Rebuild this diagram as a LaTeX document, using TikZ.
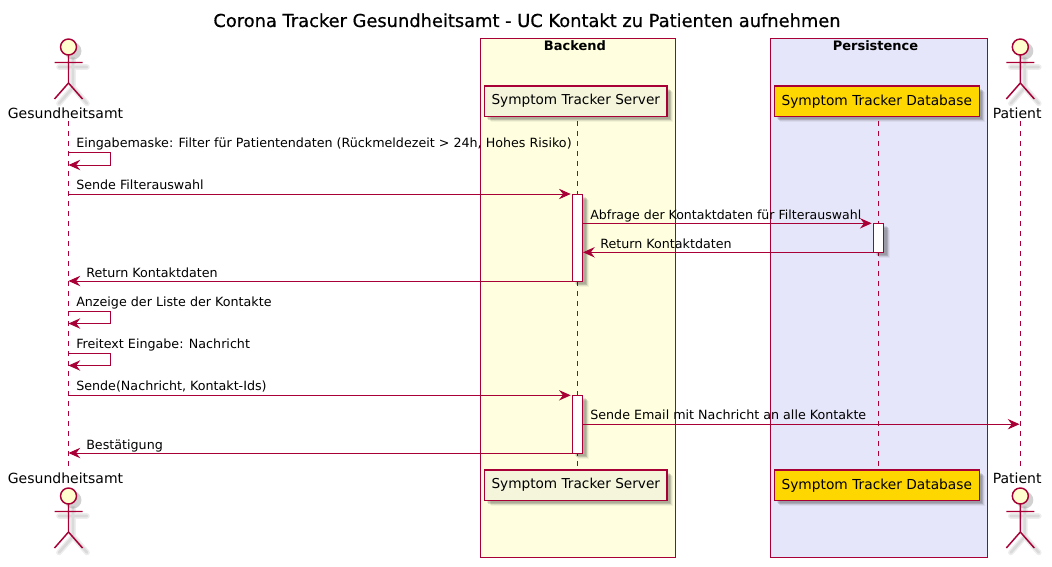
\documentclass[tikz,border=0pt]{standalone}
\usepackage{fontspec}
\setmainfont{DejaVu Sans}
\newfontfamily\titlefont[FakeBold=0.6]{DejaVu Sans}
\usetikzlibrary{arrows.meta,shadows}
\definecolor{puml}{HTML}{A80036}
\definecolor{headfill}{HTML}{FEFECE}
\definecolor{boxyellow}{HTML}{FFFFE0}
\definecolor{boxlav}{HTML}{E6E6FA}
\definecolor{srvfill}{HTML}{F5F5DC}
\definecolor{dbfill}{HTML}{FFD700}
\tikzset{
  softshadow/.style={
    general shadow={shadow xshift=2.2pt,shadow yshift=-2.2pt,fill=black,opacity=.09,draw=none},
    general shadow={shadow xshift=3pt,shadow yshift=-3pt,fill=black,opacity=.14,draw=none},
    general shadow={shadow xshift=3.8pt,shadow yshift=-3.8pt,fill=black,opacity=.08,draw=none},
    general shadow={shadow xshift=4.6pt,shadow yshift=-4.6pt,fill=black,opacity=.05,draw=none}},
  groupbox/.style={draw=puml,line width=0.75pt},
  grouplabel/.style={font=\bfseries\fontsize{9.75}{11}\selectfont,anchor=base,inner sep=0pt},
  partbox/.style={draw=puml,line width=1.1pt,minimum height=22.6pt,inner sep=0pt,softshadow},
  srvbox/.style={partbox,fill=srvfill,minimum width=137pt,font=\fontsize{10.25}{12}\selectfont},
  dbbox/.style={partbox,fill=dbfill,minimum width=153.7pt,font=\fontsize{10.33}{12}\selectfont},
  actorlabel/.style={font=\fontsize{10.5}{12}\selectfont,anchor=base,inner sep=0pt},
  msgtext/.style={font=\fontsize{9.52}{11}\selectfont,anchor=base west,inner sep=0pt},
  msgtextnarrow/.style={msgtext,font=\fontsize{9.42}{11}\selectfont},
  life/.style={draw=puml,line width=0.75pt,dash pattern=on 3.75pt off 3.75pt},
  msg/.style={draw=puml,line width=0.75pt,-{Stealth[length=8.8pt,width=7.8pt,inset=3pt,fill=puml]}},
  activation/.style={draw=puml,line width=0.75pt,fill=white,softshadow,inner sep=0pt,minimum width=7.8pt},
  actorfig/.pic={
    \begin{scope}[shift={(4.5,4.5)},draw=black,line cap=round]
      \fill[black,opacity=.18] (0,-8.5) circle (8.5);
      \draw[opacity=.07,line width=4.2pt] (0,0) -- (0,28) (-14,7.5) -- (14,7.5) (-14,44) -- (0,28) -- (14,44);
      \draw[opacity=.08,line width=2pt] (0,0) -- (0,28) (-14,7.5) -- (14,7.5) (-14,44) -- (0,28) -- (14,44);
    \end{scope}
    \filldraw[draw=puml,fill=headfill,line width=1.1pt] (0,-8) circle (8);
    \draw[puml,line width=1.1pt] (0,0) -- (0,28) (-14,7.5) -- (14,7.5) (-14,44) -- (0,28) -- (14,44);
  }
}
\begin{document}
\begin{tikzpicture}[x=0.75pt,y=-0.75pt]
\useasboundingbox[fill=white] (0,0) rectangle (1052,567);

\node[font=\titlefont\fontsize{13.38}{16}\selectfont,anchor=base,inner sep=0pt] (title) at (527,27) {Corona Tracker Gesundheitsamt - UC Kontakt zu Patienten aufnehmen};

\draw[groupbox,fill=boxyellow] (480.5,38.5) rectangle (675.3,557.3);
\draw[groupbox,fill=boxlav] (770.5,38.5) rectangle (987.3,557.3);
\node[grouplabel] (backend) at (575,50.5) {Backend};
\node[grouplabel] (persistence) at (875.5,50.5) {Persistence};

% participants
\node[srvbox] (srvT) at (575.8,101.2) {Symptom Tracker Server};
\node[srvbox] (srvB) at (575.8,485.2) {Symptom Tracker Server};
\node[dbbox] (dbT) at (876.8,101.2) {Symptom Tracker Database};
\node[dbbox] (dbB) at (876.8,485.2) {Symptom Tracker Database};

% actors
\pic at (68.5,55) {actorfig};
\pic at (1020.3,55) {actorfig};
\pic at (68.5,504) {actorfig};
\pic at (1020.3,504) {actorfig};
\node[actorlabel] (gesT) at (65.5,118) {Gesundheitsamt};
\node[actorlabel] (patT) at (1017.2,118) {Patient};
\node[actorlabel] (gesB) at (65.5,483) {Gesundheitsamt};
\node[actorlabel] (patB) at (1017.2,483) {Patient};

% lifelines
\coordinate (gTop) at (68.5,121);
\coordinate (gBot) at (68.5,466);
\coordinate (pTop) at (1020.3,121);
\coordinate (pBot) at (1020.3,466);
\coordinate (sTop) at (577.3,121);
\coordinate (sBot) at (577.3,466);
\coordinate (dTop) at (878.3,121);
\coordinate (dBot) at (878.3,466);
\draw[life] (gTop) -- (gBot);
\draw[life] (sTop) -- (sBot);
\draw[life] (dTop) -- (dBot);
\draw[life] (pTop) -- (pBot);

% activations
\node[activation,minimum height=65.2pt] (act1) at (577.5,237.6) {};
\node[activation,minimum height=21.5pt] (act2) at (878.5,237.7) {};
\node[activation,minimum height=43.3pt] (act3) at (577.5,424.2) {};

% message end points
\coordinate (g1a) at (68.5,152.3); \coordinate (g1b) at (68.5,165);
\coordinate (g2) at (68.5,194); \coordinate (s2) at (570.7,194);
\coordinate (s3) at (582.7,223.3); \coordinate (d3) at (871.7,223.3);
\coordinate (d4) at (873.3,252.3); \coordinate (s4) at (583,252.3);
\coordinate (s5) at (572.3,281); \coordinate (g5) at (68.5,281);
\coordinate (g6a) at (68.5,311); \coordinate (g6b) at (68.5,323.5);
\coordinate (g7a) at (68.5,353); \coordinate (g7b) at (68.5,365.5);
\coordinate (g8) at (68.5,395.3); \coordinate (s8) at (570.7,395.3);
\coordinate (s9) at (582.7,424.2); \coordinate (p9) at (1019.5,424.2);
\coordinate (s10) at (572.3,453); \coordinate (g10) at (68.5,453);

\draw[msg] (g1a) -- ++(42,0) |- (g1b);
\draw[msg] (g2) -- (s2);
\draw[msg] (s3) -- (d3);
\draw[msg] (d4) -- (s4);
\draw[msg] (s5) -- (g5);
\draw[msg] (g6a) -- ++(42,0) |- (g6b);
\draw[msg] (g7a) -- ++(42,0) |- (g7b);
\draw[msg] (g8) -- (s8);
\draw[msg] (s9) -- (p9);
\draw[msg] (s10) -- (g10);

% message labels
\node[msgtext] (m1) at (76,147) {Eingabemaske: Filter für Patientendaten (Rückmeldezeit > 24h, Hohes Risiko)};
\node[msgtext] (m2) at (76,189) {Sende Filterauswahl};
\node[msgtextnarrow] (m3) at (590,219) {Abfrage der Kontaktdaten für Filterauswahl};
\node[msgtext] (m4) at (600,248) {Return Kontaktdaten};
\node[msgtext] (m5) at (86,277) {Return Kontaktdaten};
\node[msgtext] (m6) at (76,306) {Anzeige der Liste der Kontakte};
\node[msgtext] (m7) at (76,348) {Freitext Eingabe: Nachricht};
\node[msgtext] (m8) at (76,390) {Sende(Nachricht, Kontakt-Ids)};
\node[msgtext] (m9) at (590,419) {Sende Email mit Nachricht an alle Kontakte};
\node[msgtext] (m10) at (86,449) {Bestätigung};
\end{tikzpicture}
\end{document}
